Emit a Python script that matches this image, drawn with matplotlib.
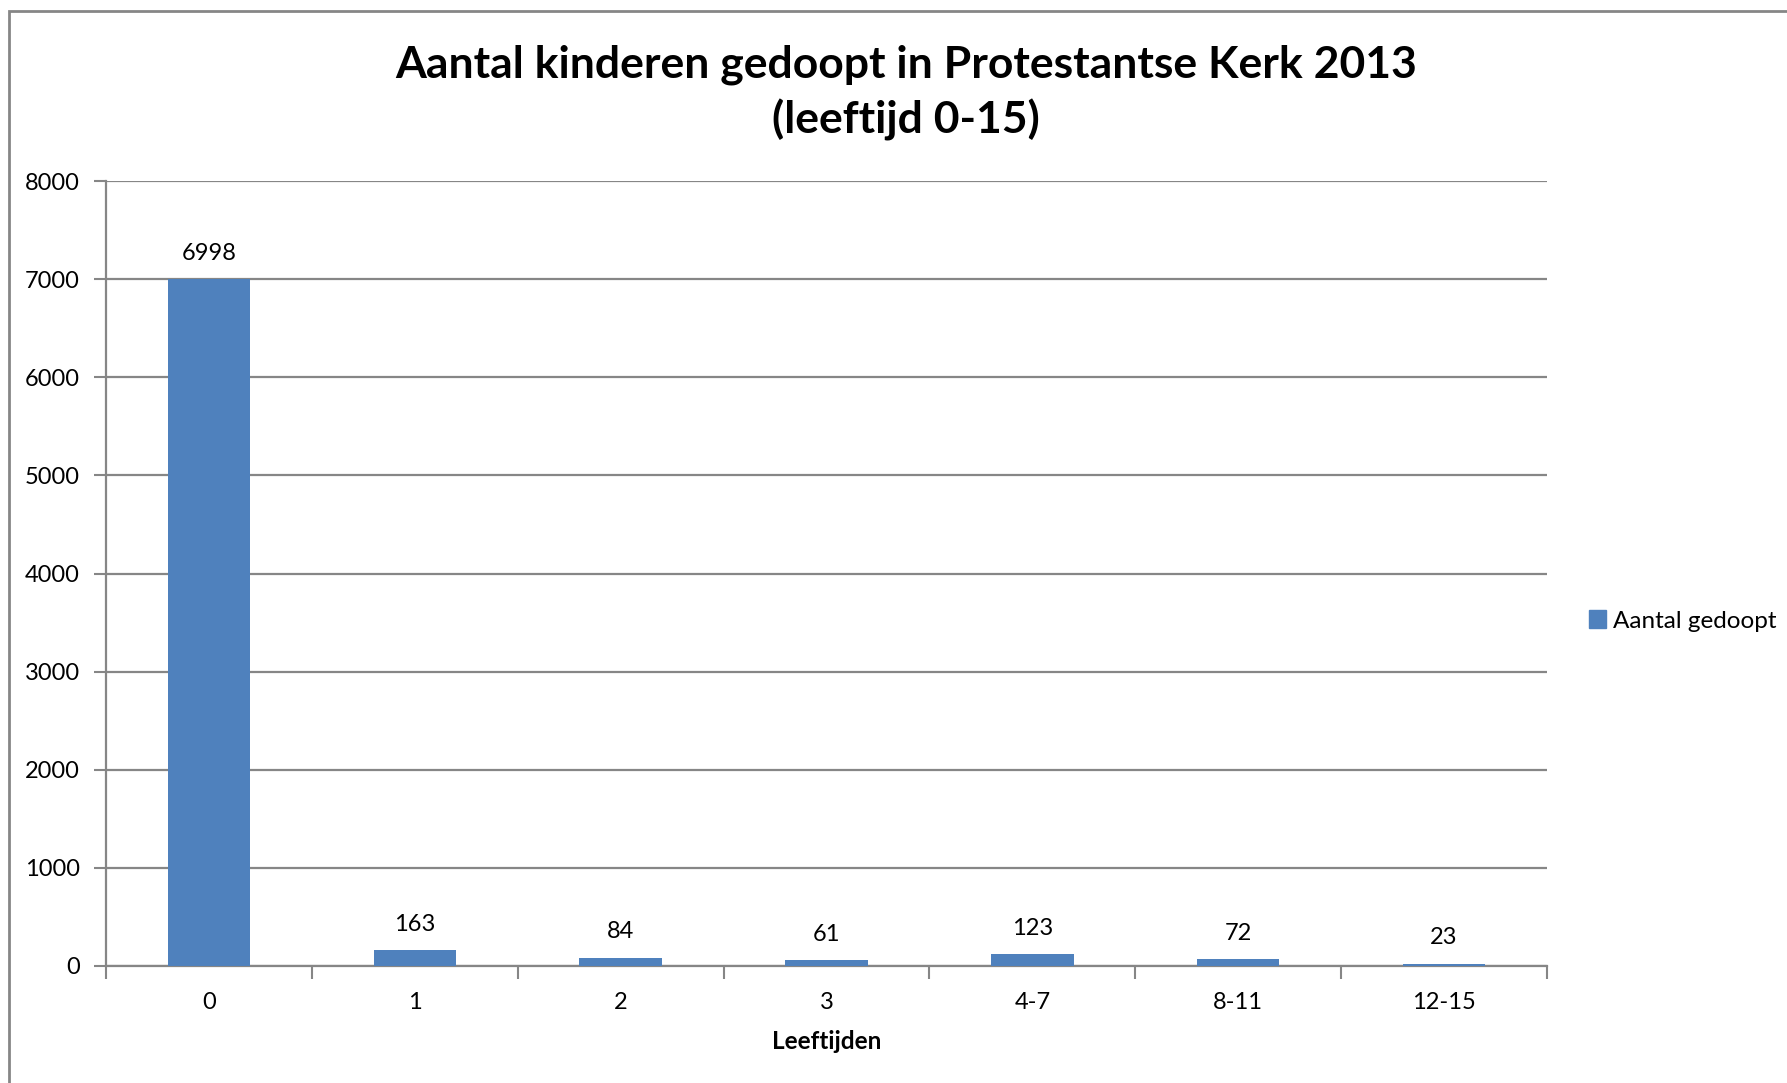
import matplotlib
matplotlib.use("Agg")
import matplotlib.pyplot as plt
from matplotlib.patches import Rectangle, Patch

categories = ["0", "1", "2", "3", "4-7", "8-11", "12-15"]
values = [6998, 163, 84, 61, 123, 72, 23]
yticks = [0, 1000, 2000, 3000, 4000, 5000, 6000, 7000, 8000]
series_name = "Aantal gedoopt"
title = "Aantal kinderen gedoopt in Protestantse Kerk 2013\n(leeftijd 0-15)"
xlabel = "Leeftijden"

plt.rcParams['font.family'] = ['Lato', 'DejaVu Sans']
grey = "#868686"
bar_color = "#4F81BD"

fig = plt.figure(figsize=(17.87, 10.83), dpi=100)
fig.patches.append(Rectangle((9/1787, -0.1), 1.2, 1 - 11/1083 + 0.1,
                             transform=fig.transFigure, fill=False,
                             edgecolor=grey, linewidth=2, zorder=0))

ax = fig.add_axes([106/1787, 1 - 966/1083, (1547-106)/1787, (966-181)/1083])
x = list(range(len(categories)))
bars = ax.bar(x, values, width=0.4, color=bar_color, zorder=3, label=series_name)
for xi, v in zip(x, values):
    ax.annotate(str(v), (xi, v), xytext=(0, 11), textcoords="offset points",
                ha="center", va="bottom", fontsize=17)

ax.set_xlim(-0.5, len(categories) - 0.5)
ax.set_ylim(0, 8000)
ax.set_yticks(yticks)
ax.set_yticklabels([str(t) for t in yticks], fontsize=17)
ax.set_xticks(x)
ax.set_xticklabels(categories, fontsize=17)
ax.set_xticks([i - 0.5 for i in range(len(categories) + 1)], minor=True)
ax.tick_params(axis="x", which="major", length=0, pad=19)
ax.tick_params(axis="x", which="minor", length=9, width=1.5, color=grey, direction="out")
ax.tick_params(axis="y", which="major", length=9, width=1.5, color=grey, direction="out", pad=10)
ax.yaxis.grid(True, color=grey, linewidth=1.6, zorder=0)
ax.set_axisbelow(True)
for s in ["top", "right"]:
    ax.spines[s].set_visible(False)
for s in ["left", "bottom"]:
    ax.spines[s].set_color(grey)
    ax.spines[s].set_linewidth(1.6)

ax.set_xlabel(xlabel, fontsize=17.5, fontweight="bold", labelpad=12)
fig.text(906/1787, 1 - 93/1083, title, ha="center", va="center",
         fontsize=32, fontweight="bold", linespacing=1.4)

fig.legend(handles=[Patch(color=bar_color, label=series_name)],
           loc="center left", bbox_to_anchor=(1589/1787, 1 - 621/1083),
           frameon=False, fontsize=17.5, handlelength=0.7, handleheight=0.7,
           handletextpad=0.3, borderpad=0, borderaxespad=0)

fig.savefig("out.png", dpi=100)
